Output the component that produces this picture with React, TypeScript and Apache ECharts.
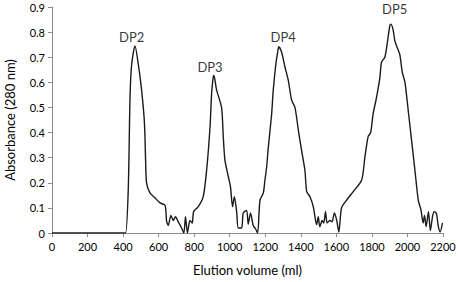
import React, { useEffect, useRef } from "react";
import * as echarts from "echarts";

const volumes = [0, 200, 400, 414, 429, 439, 448, 467, 486, 504, 520, 527, 532, 551, 579, 608, 636, 645, 654, 669, 682, 695, 710, 729, 742, 751, 762, 776, 789, 797, 823, 851, 870, 889, 898, 907, 911, 926, 954, 964, 973, 992, 1004, 1016, 1026, 1039, 1048, 1067, 1076, 1095, 1104, 1117, 1132, 1145, 1157, 1170, 1189, 1198, 1208, 1217, 1236, 1245, 1260, 1273, 1276, 1292, 1311, 1329, 1348, 1367, 1386, 1404, 1423, 1433, 1451, 1470, 1489, 1498, 1507, 1520, 1529, 1539, 1548, 1564, 1576, 1589, 1602, 1614, 1629, 1657, 1695, 1742, 1761, 1779, 1793, 1807, 1826, 1845, 1854, 1873, 1886, 1901, 1907, 1919, 1929, 1939, 1957, 1971, 1986, 2004, 2023, 2042, 2061, 2076, 2088, 2096, 2105, 2118, 2129, 2141, 2150, 2163, 2174, 2184, 2197];
const absorbance = [0, 0, 0, 0, 0.17, 0.54, 0.67, 0.745, 0.67, 0.57, 0.44, 0.28, 0.2, 0.16, 0.14, 0.12, 0.11, 0.046, 0.03, 0.07, 0.05, 0.065, 0.045, 0.02, 0, 0.065, 0, 0.05, 0.04, 0.086, 0.105, 0.145, 0.25, 0.42, 0.555, 0.62, 0.627, 0.57, 0.5, 0.38, 0.29, 0.225, 0.185, 0.105, 0.145, 0.085, 0.02, 0.02, 0.08, 0.09, 0.035, 0.08, 0.03, 0.017, 0, 0.13, 0.16, 0.21, 0.265, 0.34, 0.475, 0.57, 0.675, 0.734, 0.742, 0.72, 0.66, 0.61, 0.53, 0.5, 0.41, 0.33, 0.25, 0.165, 0.145, 0.105, 0.033, 0.065, 0.025, 0.05, 0.04, 0.085, 0.04, 0.05, 0.045, 0.08, 0.05, 0.004, 0.1, 0.13, 0.165, 0.21, 0.305, 0.385, 0.4, 0.475, 0.54, 0.62, 0.68, 0.7, 0.754, 0.827, 0.832, 0.81, 0.765, 0.745, 0.71, 0.64, 0.6, 0.49, 0.37, 0.25, 0.13, 0.092, 0.04, 0.07, 0.025, 0.085, 0.01, 0.065, 0.085, 0.077, 0.025, 0.004, 0.04];

const peakNames = ["DP2", "DP3", "DP4", "DP5"];
const peakLabelX = [448, 889, 1301, 1928];
const peakLabelY = [0.78, 0.66, 0.78, 0.893];

const xTicks = { min: 0, max: 2200, interval: 200 };
const yTicks = { min: 0, max: 0.9, interval: 0.1 };

const FONT = "Lato, 'Open Sans', sans-serif";

export default function App() {
  const ref = useRef<HTMLDivElement>(null);
  useEffect(() => {
    if (!ref.current) return;
    const chart = echarts.init(ref.current, null, { renderer: "svg" });
    const axisLine = { show: true, lineStyle: { color: "#8c8c8c", width: 1 } };
    chart.setOption({
      animation: false,
      textStyle: { fontFamily: FONT },
      grid: { left: 52, right: 16, top: 7, bottom: 49, containLabel: false, outerBoundsMode: "none" },
      xAxis: {
        type: "value",
        min: xTicks.min,
        max: xTicks.max,
        interval: xTicks.interval,
        name: "Elution volume (ml)",
        nameLocation: "middle",
        nameGap: 30,
        nameTextStyle: { color: "#000", fontSize: 13, fontFamily: FONT },
        axisLine,
        axisTick: { show: true, length: 4, inside: false, lineStyle: { color: "#8c8c8c" } },
        axisLabel: {
          color: "#000",
          fontSize: 11,
          margin: 8,
          fontFamily: FONT,
          formatter: (v: number) => String(v),
        },
        splitLine: { show: false },
      },
      yAxis: {
        type: "value",
        min: yTicks.min,
        max: yTicks.max,
        interval: yTicks.interval,
        name: "Absorbance (280 nm)",
        nameLocation: "middle",
        nameGap: 36,
        nameRotate: 90,
        nameTextStyle: { color: "#000", fontSize: 13, fontFamily: FONT },
        axisLine,
        axisTick: { show: true, length: 4, inside: false, lineStyle: { color: "#8c8c8c" } },
        axisLabel: {
          color: "#000",
          fontSize: 11,
          margin: 7,
          fontFamily: FONT,
          formatter: (v: number) => (v === 0 ? "0" : v.toFixed(1)),
        },
        splitLine: { show: false },
      },
      series: [
        {
          type: "line",
          data: volumes.map((v, i) => [v, absorbance[i]]),
          showSymbol: false,
          symbol: "none",
          smooth: 0.25,
          lineStyle: { color: "#1a1a1a", width: 1.4 },
          z: 3,
        },
        {
          type: "scatter",
          data: peakNames.map((n, i) => ({ value: [peakLabelX[i], peakLabelY[i]], name: n })),
          symbolSize: 0,
          silent: true,
          label: {
            show: true,
            position: "inside",
            formatter: (p: any) => p.name,
            color: "#000",
            fontSize: 13,
            fontFamily: FONT,
          },
        },
      ],
    });
    return () => chart.dispose();
  }, []);
  return <div ref={ref} style={{ width: 459, height: 282, position: "absolute", left: 0, top: 0, background: "#fff" }} />;
}
